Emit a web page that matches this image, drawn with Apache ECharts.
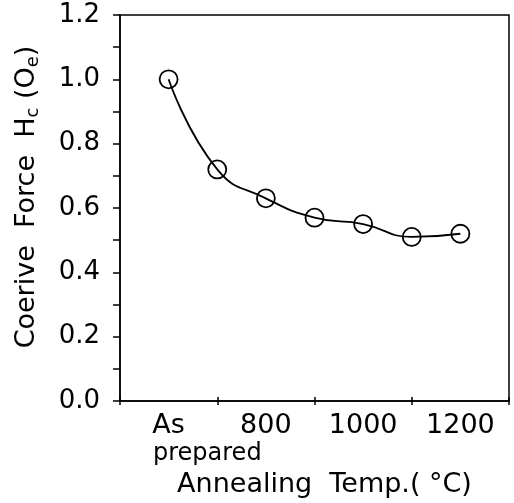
<!DOCTYPE html>
<html>
<head>
<meta charset="utf-8">
<script src="https://cdn.jsdelivr.net/npm/echarts@6/dist/echarts.min.js"></script>
<style>html,body{margin:0;padding:0;background:#fff;}#c{width:514px;height:503px;}</style>
</head>
<body>
<div id="c"></div>
<script>
const temps = [600, 700, 800, 900, 1000, 1100, 1200];
const coerciveForce = [1.00, 0.72, 0.63, 0.57, 0.55, 0.51, 0.52];
const xTickLabels = {600: 'As', 800: '800', 1000: '1000', 1200: '1200'};
const yTickLabels = ['0.0', '0.2', '0.4', '0.6', '0.8', '1.0', '1.2'];

const FONT = 'DejaVu Sans';
const chart = echarts.init(document.getElementById('c'), null, {renderer: 'canvas'});
const baseX = {type: 'value', min: 500, max: 1300, position: 'bottom', splitLine: {show: false}};
chart.setOption({
  animation: false,
  backgroundColor: '#fff',
  grid: {left: 120, right: 5, top: 15, bottom: 100, show: true, borderColor: '#000', borderWidth: 1.5, backgroundColor: 'transparent'},
  xAxis: [
    Object.assign({}, baseX, {interval: 200,
      axisLine: {show: true, lineStyle: {color: '#000', width: 1.5}},
      axisTick: {show: true, inside: true, length: 4, lineStyle: {color: '#000', width: 1.5}},
      axisLabel: {show: false}}),
    Object.assign({}, baseX, {interval: 200,
      axisLine: {show: false},
      axisTick: {show: true, inside: false, length: 4, lineStyle: {color: '#000', width: 1.5}},
      axisLabel: {show: false}}),
    Object.assign({}, baseX, {interval: 100,
      axisLine: {show: false}, axisTick: {show: false},
      axisLabel: {show: true, margin: 11, color: '#000', fontFamily: FONT, fontSize: 27,
        formatter: v => xTickLabels[v] || ''},
      name: 'Annealing  Temp.( °C)', nameLocation: 'middle', nameGap: 70,
      nameTextStyle: {color: '#000', fontFamily: FONT, fontSize: 27, padding: [0, 0, 0, 20]}})
  ],
  yAxis: {
    type: 'value', min: 0, max: 1.2, interval: 0.2,
    splitLine: {show: false},
    axisLine: {show: true, lineStyle: {color: '#000', width: 1.5}},
    axisTick: {show: true, inside: false, length: 7, lineStyle: {color: '#000', width: 1.5}},
    minorTick: {show: true, splitNumber: 2, length: 7, lineStyle: {color: '#000', width: 1.5}},
    axisLabel: {color: '#000', fontFamily: FONT, fontSize: 26, margin: 20,
      formatter: v => yTickLabels[Math.round(v / 0.2)]},
    name: '{p|}{t|Coerive  Force  H}{s|c}{t| (O}{s|e}{t|)}', nameLocation: 'middle', nameGap: 78, nameRotate: 90,
    nameTextStyle: {color: '#000', fontFamily: FONT, fontSize: 27,
      rich: {p: {width: 22},
             t: {fontFamily: FONT, fontSize: 27, color: '#000'},
             s: {fontFamily: FONT, fontSize: 18, color: '#000', verticalAlign: 'bottom', padding: [12, 0, 0, 0]}}}
  },
  graphic: [{type: 'text', left: 153, top: 442, style: {text: 'prepared', fontFamily: FONT, fontSize: 24, fill: '#000'}}],
  series: [{
    type: 'line', xAxisIndex: 2,
    data: temps.map((t, i) => [t, coerciveForce[i]]),
    smooth: 0.5,
    symbol: 'circle', symbolSize: 18,
    lineStyle: {color: '#000', width: 1.8},
    itemStyle: {color: 'rgba(0,0,0,0)', borderColor: '#000', borderWidth: 1.8}
  }]
});
</script>
</body>
</html>
